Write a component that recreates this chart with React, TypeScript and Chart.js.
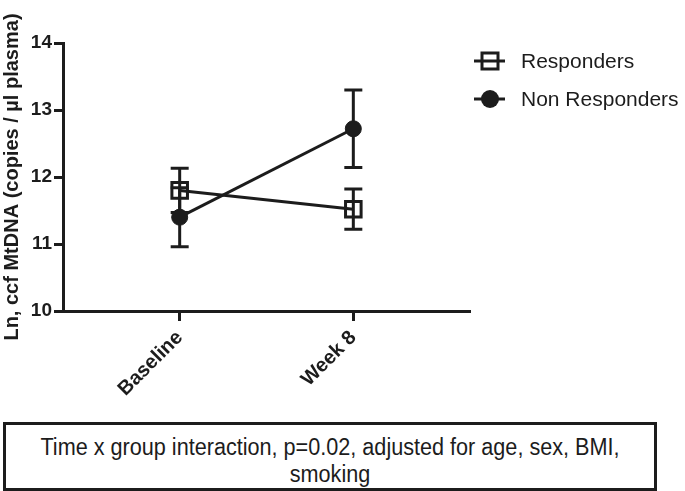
import React, { useEffect, useRef } from 'react';
import { Chart, registerables } from 'chart.js';

Chart.register(...registerables);

const categories = ['Baseline', 'Week 8'];
const seriesNames = ['Responders', 'Non Responders'];
const responders = [11.8, 11.52];
const respondersErr = [0.33, 0.3];
const nonResponders = [11.4, 12.72];
const nonRespondersErr = [0.44, 0.58];
const yTickValues = [10, 11, 12, 13, 14];
const yTitle = 'Ln, ccf MtDNA (copies / µl plasma)';
const noteLines = ['Time x group interaction, p=0.02, adjusted for age, sex, BMI,', 'smoking'];

const INK = '#1c1c1c';
const FONT = '"Liberation Sans", Arial, sans-serif';

const errorBars = {
  id: 'errorBars',
  beforeDatasetsDraw(chart: any) {
    const ctx = chart.ctx;
    const ys = chart.scales.y;
    chart.data.datasets.forEach((ds: any, di: number) => {
      const meta = chart.getDatasetMeta(di);
      const errs: number[] = ds.errors || [];
      meta.data.forEach((pt: any, i: number) => {
        const v = ds.data[i].y;
        const e = errs[i];
        if (e == null) return;
        const top = ys.getPixelForValue(v + e);
        const bot = ys.getPixelForValue(v - e);
        const x = pt.x;
        ctx.save();
        ctx.strokeStyle = INK;
        ctx.lineWidth = 3;
        ctx.beginPath();
        ctx.moveTo(x, top);
        ctx.lineTo(x, bot);
        ctx.moveTo(x - 9, top);
        ctx.lineTo(x + 9, top);
        ctx.moveTo(x - 9, bot);
        ctx.lineTo(x + 9, bot);
        ctx.stroke();
        ctx.restore();
      });
    });
  },
};

const customLegend = {
  id: 'customLegend',
  afterDraw(chart: any) {
    const ctx = chart.ctx;
    const rows = [
      { y: 61, style: 'rect' },
      { y: 99, style: 'circle' },
    ];
    chart.data.datasets.forEach((ds: any, i: number) => {
      const r = rows[i];
      ctx.save();
      ctx.strokeStyle = INK;
      ctx.fillStyle = INK;
      ctx.lineWidth = 3;
      ctx.beginPath();
      ctx.moveTo(474, r.y);
      ctx.lineTo(505, r.y);
      ctx.stroke();
      if (r.style === 'rect') {
        ctx.strokeRect(482, r.y - 8, 16, 16);
      } else {
        ctx.beginPath();
        ctx.arc(490, r.y, 9, 0, Math.PI * 2);
        ctx.fill();
      }
      ctx.font = '21px ' + FONT;
      ctx.textBaseline = 'middle';
      ctx.textAlign = 'left';
      ctx.fillText(ds.label, 521, r.y + 1);
      ctx.restore();
    });
  },
};

export default function App() {
  const ref = useRef<HTMLCanvasElement | null>(null);

  useEffect(() => {
    if (!ref.current) return;
    const chart = new Chart(ref.current, {
      type: 'line',
      data: {
        datasets: [
          {
            label: seriesNames[0],
            data: responders.map((y, i) => ({ x: i, y })),
            errors: respondersErr,
            borderColor: INK,
            backgroundColor: 'rgba(0,0,0,0)',
            borderWidth: 3,
            pointStyle: 'rect',
            pointRadius: 11,
            pointBorderWidth: 3,
            pointBorderColor: INK,
            pointBackgroundColor: 'rgba(0,0,0,0)',
          } as any,
          {
            label: seriesNames[1],
            data: nonResponders.map((y, i) => ({ x: i, y })),
            errors: nonRespondersErr,
            borderColor: INK,
            backgroundColor: INK,
            borderWidth: 3,
            pointStyle: 'circle',
            pointRadius: 8,
            pointBorderWidth: 1,
            pointBorderColor: INK,
            pointBackgroundColor: INK,
          } as any,
        ],
      },
      options: {
        animation: false,
        responsive: false,
        layout: { padding: { top: 43, right: 215, left: 0, bottom: 0 } },
        plugins: { legend: { display: false }, tooltip: { enabled: false } },
        scales: {
          x: {
            type: 'linear',
            min: -0.672,
            max: 1.672,
            afterBuildTicks: (s: any) => {
              s.ticks = categories.map((_, i) => ({ value: i }));
            },
            afterFit: (s: any) => {
              s.height = 180;
            },
            grid: {
              drawOnChartArea: false,
              drawTicks: true,
              tickLength: 10,
              tickWidth: 3,
              tickColor: INK,
            },
            border: { display: true, color: INK, width: 3 },
            ticks: {
              autoSkip: false,
              minRotation: 45,
              maxRotation: 45,
              padding: 5,
              color: INK,
              font: { family: FONT, size: 20, weight: 'bold' },
              callback: (v: any) => categories[v] ?? '',
            },
          },
          y: {
            min: 10,
            max: 14,
            afterBuildTicks: (s: any) => {
              s.ticks = yTickValues.map((v) => ({ value: v }));
            },
            afterFit: (s: any) => {
              s.width = 63;
            },
            grid: {
              drawOnChartArea: false,
              drawTicks: true,
              tickLength: 9,
              tickWidth: 3,
              tickColor: INK,
            },
            border: { display: true, color: INK, width: 3 },
            ticks: {
              padding: 2,
              color: INK,
              font: { family: FONT, size: 19, weight: 'bold' },
            },
            title: {
              display: true,
              text: yTitle,
              color: INK,
              padding: { top: 0, bottom: 0 },
              font: { family: FONT, size: 20, weight: 'bold' },
            },
          },
        },
      },
      plugins: [errorBars, customLegend],
    } as any);
    return () => chart.destroy();
  }, []);

  return (
    <div style={{ position: 'fixed', left: 0, top: 0, width: 685, height: 491, background: '#fff' }}>
      <canvas ref={ref} width={685} height={491} style={{ position: 'absolute', left: 0, top: 0 }} />
      <div
        style={{
          position: 'absolute',
          left: 3,
          top: 422,
          width: 648,
          height: 54,
          border: `3px solid ${INK}`,
          background: '#fff',
          color: INK,
          textAlign: 'center',
          fontFamily: FONT,
          fontSize: 23,
          lineHeight: '27px',
          paddingTop: 9,
        }}
      >
        {noteLines.map((l, i) => (
          <div key={i} style={{ transform: 'scaleX(0.94)', transformOrigin: 'center' }}>
            {l}
          </div>
        ))}
      </div>
    </div>
  );
}
